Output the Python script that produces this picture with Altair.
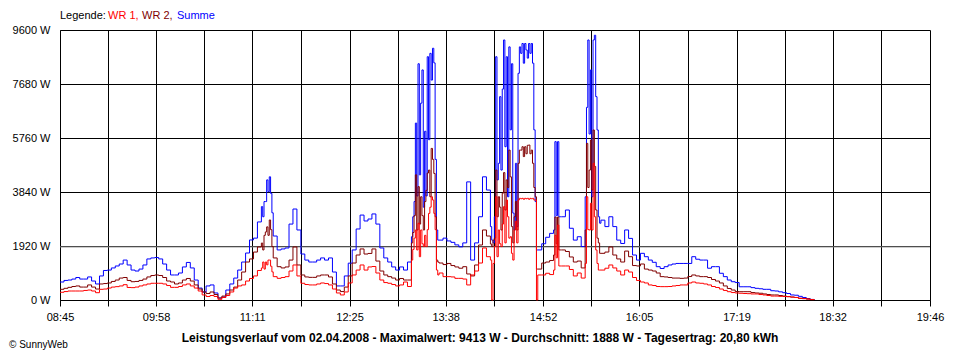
import altair as alt
import pandas as pd

# ---------------- data ----------------
START_MIN = 8 * 60 + 45          # first sample 08:45
STEP_MIN = 3                     # base sampling interval in minutes

x_labels = ["08:45", "09:58", "11:11", "12:25", "13:38", "14:52", "16:05", "17:19", "18:32", "19:46"]
y_ticks = [0, 1920, 3840, 5760, 7680, 9600]

series_names = ["Summe", "WR 2", "WR 1"]
series_colors = ["#0000ff", "#800000", "#ff0000"]

# base series, one value every 3 minutes from 08:45
wr1 = [
    275, 300, 320, 320, 320, 320, 340, 355, 320, 260,
    380, 390, 425, 460, 475, 500, 545, 445, 440, 460,
    500, 535, 570, 595, 595, 595, 570, 515, 450, 450,
    480, 535, 570, 500, 425, 320, 180, 125, 160, 125,
    25, 90, 160, 285, 425, 500, 535, 675, 765, 855,
    1050, 1140, 1350, 1420, 830, 770, 800, 830, 1030, 1245,
    855, 595, 550, 535, 535, 570, 605, 585, 535, 390,
    250, 180, 285, 605, 890, 1065, 1245, 1065, 1175, 1190,
    960, 710, 620, 595, 550, 500, 535, 640, 480, 1420,
    2490, 1565, 2490, 1920, 3630, 3095, 960, 830, 830, 820,
    770, 770, 745, 535, 890, 1030, 1315, 1850, 1540, 1420,
    0, 3675, 2135, 3380, 2950, 1495, 3380, 3615, 3615, 3615,
    3555, 890, 890, 950, 905, 1065, 2665, 1210, 1210, 1085,
    855, 960, 780, 1315, 2665, 4800, 1780, 1065, 1130, 1245,
    1140, 1030, 890, 1065, 995, 800, 695, 640, 605, 535,
    515, 480, 475, 475, 480, 500, 515, 535, 535, 605,
    640, 605, 595, 570, 535, 480, 445, 390, 340, 295,
    265, 250, 240, 230, 225, 215, 215, 195, 180, 160,
    140, 140, 130, 125, 120, 105, 90, 60, 50, 35,
    15, 0,
]

wr2 = [
    380, 415, 450, 480, 500, 460, 460, 535, 460, 390,
    570, 585, 605, 660, 710, 780, 800, 695, 650, 660,
    695, 745, 820, 870, 890, 870, 800, 675, 640, 570,
    605, 710, 765, 675, 535, 390, 285, 230, 285, 195,
    70, 140, 215, 355, 460, 710, 995, 1350, 1460, 1705,
    1885, 2025, 2420, 2845, 1495, 1185, 1140, 1175, 1420, 1885,
    1245, 890, 820, 805, 805, 855, 890, 890, 820, 570,
    355, 300, 460, 855, 1315, 1600, 1815, 1635, 1655, 1815,
    1385, 1030, 890, 830, 780, 710, 765, 710, 710, 1780,
    4445, 2665, 3700, 4550, 5335, 2845, 1315, 1260, 1300, 1225,
    1175, 1130, 1185, 925, 855, 1245, 1955, 2490, 2275, 1990,
    2205, 4445, 3020, 4265, 4980, 2135, 4445, 5440, 5225, 5510,
    4800, 1100, 1315, 1350, 1405, 1600, 2950, 1780, 1725, 1530,
    1350, 1385, 1140, 2420, 5510, 5870, 4265, 1660, 1705, 1885,
    1600, 1460, 1350, 1740, 1540, 1225, 1210, 1280, 1100, 1065,
    1030, 960, 830, 820, 800, 780, 780, 770, 780, 835,
    890, 855, 830, 830, 800, 730, 675, 605, 500, 410,
    355, 300, 295, 295, 295, 265, 250, 240, 215, 195,
    180, 180, 160, 140, 120, 105, 90, 60, 50, 35,
    15, 0,
]

summe = [
    640, 695, 710, 745, 800, 745, 745, 820, 675, 570,
    855, 1050, 1065, 1140, 1210, 1280, 1420, 1245, 1065, 1030,
    1100, 1245, 1460, 1495, 1510, 1460, 1280, 1065, 890, 890,
    960, 1175, 1335, 1140, 710, 425, 285, 500, 535, 250,
    70, 105, 355, 570, 780, 1065, 1350, 1670, 2135, 2200,
    2775, 3300, 3555, 4375, 2275, 1780, 1815, 1850, 2700, 3235,
    2490, 1635, 1420, 1350, 1350, 1420, 1495, 1420, 1495, 995,
    500, 500, 855, 1310, 1780, 2525, 3020, 2810, 2880, 3060,
    2700, 1850, 1495, 1350, 1175, 1065, 1175, 1065, 1350, 2250,
    7000, 4000, 8200, 5000, 8900, 3300, 2130, 2200, 2100, 2050,
    1960, 1890, 2030, 4200, 1420, 2030, 2960, 4380, 3910, 2960,
    2030, 8650, 4700, 9245, 5400, 2500, 7500, 9000, 8800, 9100,
    7200, 1780, 2000, 2230, 2370, 2490, 5630, 2960, 3200, 2550,
    2130, 2250, 1900, 3700, 9413, 9000, 4500, 2840, 2610, 2960,
    2610, 2130, 2010, 2490, 2190, 1600, 1420, 1660, 1540, 1420,
    1340, 1185, 1120, 1185, 1245, 1280, 1300, 1300, 1300, 1300,
    1540, 1450, 1420, 1420, 1130, 1185, 1185, 950, 830, 710,
    650, 620, 470, 470, 470, 440, 415, 400, 380, 380,
    330, 320, 290, 260, 230, 180, 170, 130, 90, 50,
    20, 0,
]

# detailed one-minute readings in the gusty periods (minutes after 08:45)
start_e, summe_e = 153, [3320, 2960, 3500, 3500, 4270, 3850, 4380, 3790, 3100]
wr2_e = [2025, 1780, 2300, 2420, 2600, 2300, 2845, 2500, 1900]
wr1_e = [1140, 1350, 1100, 1350, 1250, 1420, 1420, 1200, 1000]

start_a = 267
summe_a = [2250, 2960, 3500, 6290, 3700, 8400, 4450, 7000, 8180, 3300, 6000,
           3700, 8650, 5700, 8770, 7820, 8950, 8430, 5000, 2490, 2130]
wr2_a = [2030, 2400, 3000, 4450, 2490, 4030, 2700, 3670, 3000, 2490, 3500,
         3900, 4515, 4620, 3670, 5390, 5000, 4500, 2960, 1420, 1350]
wr1_a = [1420, 1800, 2200, 2490, 1780, 2730, 1540, 2490, 2000, 1900, 2300,
         1900, 2500, 3080, 3300, 3670, 3555, 3080, 2500, 1065, 890]

start_b = 327
summe_b = [2610, 2130, 2030, 2960, 8650, 4270, 4860, 7230, 4620, 7500, 9245, 5450,
           8650, 3670, 9000, 6050, 8400, 3090, 2490, 4860, 2610, 8060, 9000, 8770,
           9120, 8420, 9120, 8890, 8600, 9120, 8770, 9120, 8420, 6050, 3500, 1780]
wr2_b = [1990, 1900, 2130, 2200, 4620, 2960, 3670, 3300, 2490, 3800, 4530, 3200,
         4270, 4000, 5330, 4380, 2610, 2030, 2960, 3500, 2490, 4860, 5330, 5330,
         5450, 5100, 5450, 5200, 5500, 5510, 5200, 5330, 4860, 4000, 3670, 1100]
wr1_b = [1420, 0, 1300, 1900, 3670, 1540, 2490, 2000, 1900, 2700, 3320, 2030,
         3555, 2960, 2200, 2250, 1660, 1420, 2490, 2800, 2030, 3555, 3615, 3600,
         3615, 3580, 3615, 3600, 3615, 3580, 3615, 3600, 3615, 3555, 3555, 0]

start_d, summe_d = 375, [2490, 5630, 3000, 5630, 2960, 2960]
wr2_d = [1600, 2950, 2000, 2950, 1780, 1780]
wr1_d = [1065, 2300, 1500, 2665, 1210, 1210]

start_c = 399
summe_c = [3670, 6850, 9245, 5900, 8180, 3670, 9245, 9413, 7230, 6045, 2960, 2730]
wr2_c = [2490, 5570, 4000, 4620, 5690, 3910, 6045, 4750, 3200, 2200, 2030, 1660]
wr1_c = [1300, 3670, 2500, 2490, 3440, 2490, 4860, 2960, 1780, 1300, 1065, 1065]

average_w = 1888
footer = ("Leistungsverlauf vom 02.04.2008 - Maximalwert: 9413 W - "
          "Durchschnitt: 1888 W - Tagesertrag: 20,80 kWh")
legend_parts = ["Legende:", "WR 1,", "WR 2,", "Summe"]
legend_colors = ["#000000", "#ff0000", "#800000", "#0000ff"]
credit = "© SunnyWeb"

# ---------------- build ----------------
FONT = "Liberation Sans"
W, H = 870, 270

details = {
    "Summe": [(start_e, summe_e), (start_a, summe_a), (start_b, summe_b), (start_d, summe_d), (start_c, summe_c)],
    "WR 2": [(start_e, wr2_e), (start_a, wr2_a), (start_b, wr2_b), (start_d, wr2_d), (start_c, wr2_c)],
    "WR 1": [(start_e, wr1_e), (start_a, wr1_a), (start_b, wr1_b), (start_d, wr1_d), (start_c, wr1_c)],
}
base = {"Summe": summe, "WR 2": wr2, "WR 1": wr1}


def merged(name):
    pts = {}
    windows = details[name]
    for i, v in enumerate(base[name]):
        m = STEP_MIN * i
        if any(s <= m < s + len(vals) for s, vals in windows):
            continue
        pts[m] = v
    for s, vals in windows:
        for k, v in enumerate(vals):
            pts[s + k] = v
    ms = sorted(pts)
    return pd.DataFrame({"t": [START_MIN + m for m in ms], "w": [pts[m] for m in ms]})


label_min = [int(s[:2]) * 60 + int(s[3:]) for s in x_labels]
mid_min = [(a + b) / 2 for a, b in zip(label_min[:-1], label_min[1:])]
tick_vals = sorted(label_min + mid_min)
x_domain = [label_min[0], label_min[-1]]

label_expr = (
    "(" + str(x_labels) + ")[indexof(" + str(label_min) + ", round(datum.value))] || ''"
)

x_enc = alt.X(
    "t:Q",
    scale=alt.Scale(domain=x_domain, nice=False, zero=False),
    axis=alt.Axis(values=tick_vals, labelExpr=label_expr, title=None, grid=True,
                  tickSize=6, labelPadding=5, labelFlush=False, labelOverlap=False),
)
y_enc = alt.Y(
    "w:Q",
    scale=alt.Scale(domain=[0, 9600], nice=False),
    axis=alt.Axis(values=y_ticks, labelExpr="datum.value + ' W'", title=None, grid=True,
                  tickSize=0, labelPadding=10),
)

layers = []
for name, color in zip(series_names, series_colors):
    layers.append(
        alt.Chart(merged(name)).mark_line(color=color, strokeWidth=1, interpolate="step-after")
        .encode(x=x_enc, y=y_enc)
    )

avg = alt.Chart(pd.DataFrame({"w": [average_w]})).mark_rule(
    color="#808080", strokeWidth=1
).encode(y=alt.Y("w:Q"))

legend_x = [0, 48, 82, 117]
legend_layers = []
for txt, col, lx in zip(legend_parts, legend_colors, legend_x):
    legend_layers.append(
        alt.Chart(pd.DataFrame({"s": [txt]})).mark_text(
            align="left", baseline="middle", font=FONT, fontSize=11, color=col
        ).encode(text="s:N", x=alt.value(lx), y=alt.value(-14))
    )

footer_layer = alt.Chart(pd.DataFrame({"s": [footer]})).mark_text(
    align="center", baseline="middle", font=FONT, fontSize=12, fontWeight="bold", color="#000000"
).encode(text="s:N", x=alt.value(420), y=alt.value(308))

credit_layer = alt.Chart(pd.DataFrame({"s": [credit]})).mark_text(
    align="left", baseline="middle", font=FONT, fontSize=10, color="#000000"
).encode(text="s:N", x=alt.value(-51), y=alt.value(315))

chart = alt.layer(avg, *layers, *legend_layers, footer_layer, credit_layer).properties(
    width=W, height=H,
    padding={"left": 52, "right": 22, "top": 22, "bottom": 52},
    autosize=alt.AutoSizeParams(type="none"),
    background="#ffffff",
).configure_view(stroke=None).configure_axis(
    domainColor="#000000", tickColor="#000000", gridColor="#000000", gridOpacity=1,
    gridWidth=1, domainWidth=1, tickWidth=1,
    labelFont=FONT, labelFontSize=11, labelColor="#000000",
)

chart.save("out.html", embed_options={"renderer": "svg", "actions": False})
